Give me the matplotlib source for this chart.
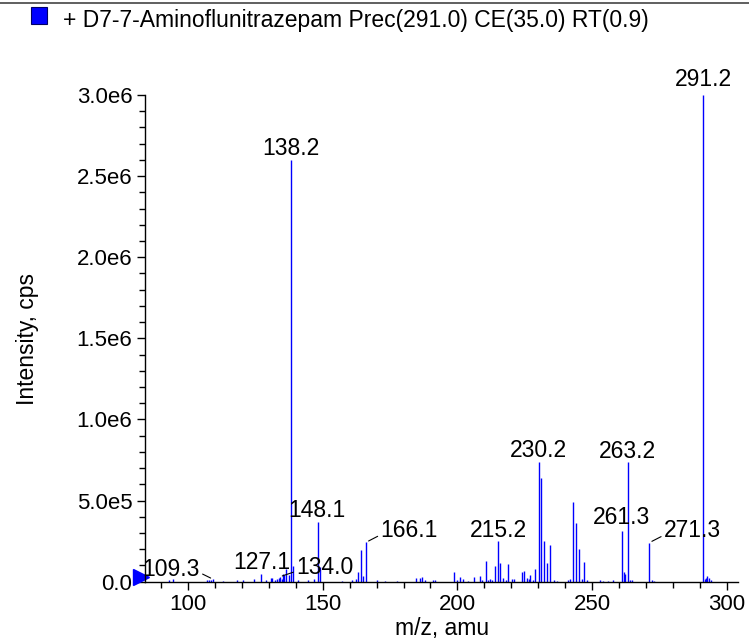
import numpy as np
import matplotlib
matplotlib.use("Agg")
import matplotlib.pyplot as plt
from matplotlib.patches import Rectangle
from matplotlib.lines import Line2D
from matplotlib.ticker import MultipleLocator, FuncFormatter

plt.rcParams['font.family'] = ['Liberation Sans', 'DejaVu Sans']

# spectrum (m/z, intensity in cps)
mz = [93.0, 94.3, 106.9, 107.8, 108.5, 109.3, 113.0, 118.1, 120.3, 124.3, 127.1,
      129.0, 130.7, 131.2, 132.3, 132.9, 133.9, 134.0, 134.7, 135.2, 135.7, 136.2,
      137.4, 138.2, 139.1, 140.7, 144.6, 146.9, 148.1, 149.1, 157.0, 160.9, 162.2,
      163.0, 164.1, 165.0, 166.1, 170.0, 173.2, 177.7, 184.8, 186.2, 187.0, 187.8,
      190.9, 191.8, 198.8, 200.0, 201.0, 202.0, 204.1, 206.1, 208.4, 209.1, 210.7,
      211.2, 212.2, 213.0, 213.9, 215.2, 216.0, 217.1, 218.0, 218.9, 220.3, 221.0,
      223.8, 224.8, 225.8, 226.4, 227.0, 228.0, 228.9, 230.2, 231.2, 232.1, 233.1,
      234.2, 236.0, 237.0, 241.0, 241.9, 243.1, 244.1, 245.1, 246.1, 247.1, 248.0,
      253.0, 254.0, 256.0, 257.6, 261.3, 261.7, 262.1, 263.2, 264.2, 264.8, 271.3,
      272.2, 273.0, 291.2, 291.8, 292.3, 292.7, 293.5, 294.2]
intensity = [8e3, 1.5e4, 1.0e4, 1.2e4, 1.0e4, 1.5e4, 6e3, 1.0e4, 1.2e4, 1.8e4, 4.5e4,
             8e3, 2.0e4, 2.3e4, 1.2e4, 1.8e4, 2.5e4, 3.0e4, 1.5e4, 5.0e4, 4.0e4, 7.6e4,
             4.0e4, 2.6e6, 9.5e4, 1.0e4, 1.2e4, 1.5e4, 3.67e5, 8.9e4, 6e3, 1.0e4, 1.5e4,
             5.8e4, 1.94e5, 3.5e4, 2.43e5, 1.0e4, 5e3, 5e3, 2.3e4, 2.3e4, 3.0e4, 1.0e4,
             1.0e4, 8e3, 5.8e4, 8e3, 3.1e4, 1.5e4, 6e3, 2.7e4, 3.5e4, 1.2e4, 1.26e5,
             1.2e4, 1.5e4, 1.0e4, 9.7e4, 2.49e5, 1.13e5, 2.5e4, 1.0e4, 1.1e5, 1.5e4, 1.5e4,
             5.8e4, 6.4e4, 2.3e4, 1.5e4, 4.0e4, 1.0e4, 7.6e4, 7.37e5, 6.42e5, 2.53e5, 1.15e5,
             2.27e5, 1.0e4, 6e3, 1.0e4, 1.7e4, 4.94e5, 3.64e5, 2.04e5, 1.5e4, 1.23e5, 1.0e4,
             1.0e4, 6e3, 6e3, 1.0e4, 3.13e5, 5.8e4, 4.5e4, 7.35e5, 8e3, 1.0e4, 2.41e5,
             1.0e4, 6e3, 3.0e6, 1.5e4, 2.0e4, 3.5e4, 2.0e4, 8e3]

# labelled peaks
label_mz = [109.3, 127.1, 134.0, 138.2, 148.1, 166.1, 215.2, 230.2, 261.3, 263.2, 271.3, 291.2]
label_int = [1.5e4, 4.5e4, 3.0e4, 2.6e6, 3.67e5, 2.43e5, 2.49e5, 7.37e5, 3.13e5, 7.35e5, 2.41e5, 3.0e6]

title = "+ D7-7-Aminoflunitrazepam Prec(291.0) CE(35.0) RT(0.9)"

# text offsets in pixels (up is positive) from the peak top; some labels get a leader line
offsets = {109.3: (-42, 10), 127.1: (1, 12), 134.0: (45, 9), 138.2: (0, 11),
           148.1: (-1, 12), 166.1: (43, 12), 215.2: (0, 11), 230.2: (0, 12),
           261.3: (-1, 13), 263.2: (0, 11), 271.3: (43, 12), 291.2: (0, 15)}
leaders = {109.3: (1, 0.35), 134.0: (0, 0.35), 166.1: (0, 0.3), 271.3: (0, 0.3)}

W, H = 749, 639
fig = plt.figure(figsize=(W / 100, H / 100), dpi=100)
ax = fig.add_axes([145 / W, (H - 581.7) / H, (738.3 - 145) / W, (581.7 - 95) / H])

ax.vlines(mz, 0, intensity, colors='#0000ff', lw=1.0)

ax.set_xlim(84.0, 304.3)
ax.set_ylim(0, 3.0e6)

for s in ['top', 'right']:
    ax.spines[s].set_visible(False)
for s in ['left', 'bottom']:
    ax.spines[s].set_linewidth(1.0)

def sci(v, pos):
    if v == 0:
        return "0.0"
    e = int(np.floor(np.log10(abs(v)) + 1e-9))
    return f"{v / 10**e:.1f}e{e}"

ax.xaxis.set_major_locator(MultipleLocator(50))
ax.xaxis.set_minor_locator(MultipleLocator(10))
ax.yaxis.set_major_locator(MultipleLocator(5e5))
ax.yaxis.set_minor_locator(MultipleLocator(1e5))
ax.yaxis.set_major_formatter(FuncFormatter(sci))
ax.tick_params(axis='both', which='major', direction='out', length=6, width=1.0,
               labelsize=16, pad=3)
ax.tick_params(axis='both', which='minor', direction='out', length=4, width=1.0)

for m, v in zip(label_mz, label_int):
    dx, dy = offsets[m]
    arrow = None
    if m in leaders:
        arrow = dict(arrowstyle='-', lw=0.8, color='black',
                     relpos=leaders[m], shrinkA=0, shrinkB=2)
    ax.annotate(f"{m:.1f}", xy=(m, v), xytext=(dx, dy), textcoords='offset pixels',
                ha='center', va='center', fontsize=16.5, annotation_clip=False,
                arrowprops=arrow)

# blue marker at the zero level
ax.plot([-0.0075], [0.009], marker='>', ms=11, color='#0000ff', transform=ax.transAxes,
        clip_on=False)

fig.text(442 / W, 1 - 629 / H, "m/z, amu", ha='center', va='center', fontsize=16.5)
fig.text(28 / W, 1 - 339 / H, "Intensity, cps", ha='center', va='center',
         rotation=90, fontsize=16.5)

# header: line, colour square and trace name
fig.add_artist(Line2D([0, 1], [1 - 3 / H, 1 - 3 / H], transform=fig.transFigure,
                      color='#444444', lw=1.2))
fig.add_artist(Rectangle((31 / W, 1 - 24 / H), 16 / W, 17 / H, transform=fig.transFigure,
                         facecolor='#0000ff', edgecolor='#000066', lw=0.8))
fig.text(63 / W, 1 - 20 / H, title, ha='left', va='center', fontsize=16.5)

fig.savefig("out.png", dpi=100)
